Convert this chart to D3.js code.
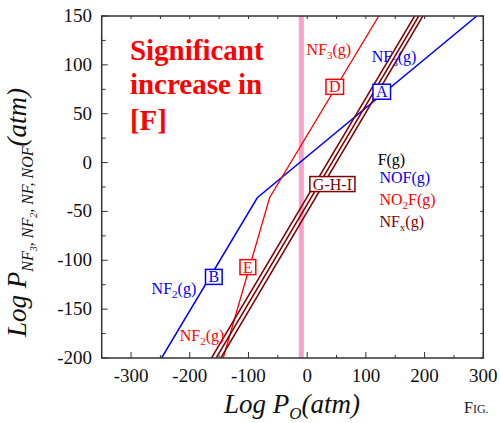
<!DOCTYPE html>
<html>
<head>
<meta charset="utf-8">
<script src="https://cdn.jsdelivr.net/npm/d3@7"></script>
<style>
  body { margin: 0; background: #fff; }
  svg { display: block; }
  svg text { font-family: "Liberation Serif", "Times New Roman", serif; }
</style>
</head>
<body>
<div id="chart"></div>
<script>
// ---- data ----
const xTicks = [-300, -200, -100, 0, 100, 200, 300];
const yTicks = [-200, -150, -100, -50, 0, 50, 100, 150];

// blue branch: NF2(g) -> NF3(g)
const blueLine = [[-248, -200], [-85, -36], [289, 150]];
// red branch: NF2(g) -> NF3(g)
const redLine = [[-143, -200], [-64, -36], [122, 150]];
// brown triple line G-H-I (F, NOF, NO2F, NFx)
const brownLines = [
  [[-163, -200], [183, 150]],
  [[-155, -200], [190, 150]],
  [[-147, -200], [197, 150]]
];
const pinkX = -10;

// plain text labels: [text, sub, rest, x, y, colour]
const textLabels = [
  ["NF", "3", "(g)", -1, 110, "#ff0000"],
  ["NF", "3", "(g)", 110, 103, "#0000ff"],
  ["F(g)", "", "", 120, -2.5, "#000000"],
  ["NOF(g)", "", "", 123, -21, "#0000ff"],
  ["NO", "2", "F(g)", 123, -43.5, "#ff0000"],
  ["NF", "x", "(g)", 123, -65.5, "#800000"],
  ["NF", "2", "(g)", -265, -134, "#0000ff"],
  ["NF", "2", "(g)", -217, -183, "#ff0000"]
];
// boxed labels: [text, cx, cy, colour]
const boxLabels = [
  ["D", 47, 77.5, "#ff0000"],
  ["A", 127, 72.5, "#0000ff"],
  ["G-H-I", 43, -22, "#800000"],
  ["B", -159, -117, "#0000ff"],
  ["E", -101, -107, "#ff0000"]
];
const headline = ["Significant", "increase in", "[F]"];

// ---- layout ----
const W = 500, H = 423;
const x = d3.scaleLinear().domain([-350, 300]).range([101.7, 483.3]);
const y = d3.scaleLinear().domain([-200, 150]).range([358, 16]);

const svg = d3.select("#chart").append("svg")
  .attr("width", W).attr("height", H);

svg.append("defs").append("clipPath").attr("id", "plot")
  .append("rect")
  .attr("x", x(-350)).attr("y", y(150))
  .attr("width", x(300) - x(-350)).attr("height", y(-200) - y(150));

const plot = svg.append("g").attr("clip-path", "url(#plot)");

// pink marker band
plot.append("line")
  .attr("x1", x(pinkX)).attr("x2", x(pinkX))
  .attr("y1", y(150)).attr("y2", y(-200))
  .attr("stroke", "#fb9fcb").attr("stroke-width", 5);

// headline
const head = svg.append("text")
  .attr("x", x(-302)).attr("y", y(105))
  .attr("fill", "#ff0000").attr("font-weight", "bold").attr("font-size", 29);
headline.forEach((t, i) => {
  head.append("tspan").attr("x", x(-302)).attr("dy", i === 0 ? 0 : (i === 2 ? 36 : 34)).text(t);
});

// text labels (under the lines)
textLabels.forEach(([a, sub, rest, lx, ly, c]) => {
  const t = svg.append("text").attr("x", x(lx)).attr("y", y(ly))
    .attr("fill", c).attr("font-size", 16);
  t.append("tspan").text(a);
  if (sub) {
    t.append("tspan").attr("font-size", 11).attr("dy", 4).text(sub);
    t.append("tspan").attr("font-size", 16).attr("dy", -4).text(rest);
  }
});

const line = d3.line().x(d => x(d[0])).y(d => y(d[1]));

plot.append("path").datum(blueLine).attr("d", line)
  .attr("fill", "none").attr("stroke", "#0000ff").attr("stroke-width", 1.5);
plot.append("path").datum(redLine).attr("d", line)
  .attr("fill", "none").attr("stroke", "#ff0000").attr("stroke-width", 1.3);
plot.selectAll("path.brown").data(brownLines).join("path")
  .attr("class", "brown").attr("d", line)
  .attr("fill", "none").attr("stroke", "#800000").attr("stroke-width", 1.5);

// boxed labels
boxLabels.forEach(([t, cx, cy, c]) => {
  const g = svg.append("g").attr("transform", `translate(${x(cx)},${y(cy)})`);
  const txt = g.append("text").attr("text-anchor", "middle").attr("y", 5.5)
    .attr("fill", c).attr("font-size", 16).text(t);
  const bw = txt.node().getComputedTextLength() + 6;
  g.insert("rect", "text")
    .attr("x", -bw / 2).attr("y", -7.5).attr("width", bw).attr("height", 15)
    .attr("fill", "#fff").attr("stroke", c).attr("stroke-width", 1.5);
});

// ---- axes frame and ticks ----
const axisCol = "#333";
svg.append("rect")
  .attr("x", x(-350)).attr("y", y(150))
  .attr("width", x(300) - x(-350)).attr("height", y(-200) - y(150))
  .attr("fill", "none").attr("stroke", axisCol).attr("stroke-width", 1.5);

const xMinor = d3.range(-350, 301, 50);
const yMinor = d3.range(-200, 151, 25);

// bottom ticks
svg.selectAll("line.xb").data(xMinor).join("line").attr("class", "xb")
  .attr("x1", d => x(d)).attr("x2", d => x(d))
  .attr("y1", y(-200)).attr("y2", d => y(-200) - (d % 100 === 0 ? 6 : 3))
  .attr("stroke", axisCol);
// top ticks
svg.selectAll("line.xt").data(xMinor).join("line").attr("class", "xt")
  .attr("x1", d => x(d)).attr("x2", d => x(d))
  .attr("y1", y(150)).attr("y2", y(150) + 3)
  .attr("stroke", axisCol);
// left ticks
svg.selectAll("line.yl").data(yMinor).join("line").attr("class", "yl")
  .attr("y1", d => y(d)).attr("y2", d => y(d))
  .attr("x1", x(-350)).attr("x2", d => x(-350) + (d % 50 === 0 ? 6 : 4))
  .attr("stroke", axisCol);
// right ticks
svg.selectAll("line.yr").data(yMinor).join("line").attr("class", "yr")
  .attr("y1", d => y(d)).attr("y2", d => y(d))
  .attr("x1", x(300)).attr("x2", x(300) - 3)
  .attr("stroke", axisCol);

svg.selectAll("text.xl").data(xTicks).join("text").attr("class", "xl")
  .attr("x", d => x(d)).attr("y", 381.5).attr("text-anchor", "middle")
  .attr("font-size", 19).attr("fill", "#111").text(d => d);
svg.selectAll("text.yl").data(yTicks).join("text").attr("class", "yl")
  .attr("x", 92).attr("y", d => y(d) + 6).attr("text-anchor", "end")
  .attr("font-size", 19).attr("fill", "#111").text(d => d);

// axis titles
const xt = svg.append("text").attr("x", 224).attr("y", 413)
  .attr("font-style", "italic").attr("font-size", 27).attr("fill", "#111");
xt.append("tspan").text("Log P");
xt.append("tspan").attr("font-size", 17).attr("dy", 6).text("O");
xt.append("tspan").attr("font-size", 27).attr("dy", -6).text("(atm)");

const yt = svg.append("text").attr("transform", "translate(26,337) rotate(-90)")
  .attr("font-style", "italic").attr("font-size", 27).attr("fill", "#111");
yt.append("tspan").text("Log P");
yt.append("tspan").attr("font-size", 16).attr("dy", 7).text("NF");
yt.append("tspan").attr("font-size", 10).attr("dy", 4).text("3");
yt.append("tspan").attr("font-size", 16).attr("dy", -4).text(", NF");
yt.append("tspan").attr("font-size", 10).attr("dy", 4).text("2");
yt.append("tspan").attr("font-size", 16).attr("dy", -4).text(", NF, NOF");
yt.append("tspan").attr("font-size", 27).attr("dy", -7).text("(atm)");

// "FIG." caption fragment in small caps
const fig = svg.append("text").attr("x", 464).attr("y", 413)
  .attr("font-size", 16).attr("fill", "#1c1c30");
fig.append("tspan").text("F");
fig.append("tspan").attr("font-size", 12).text("IG.");
</script>
</body>
</html>
